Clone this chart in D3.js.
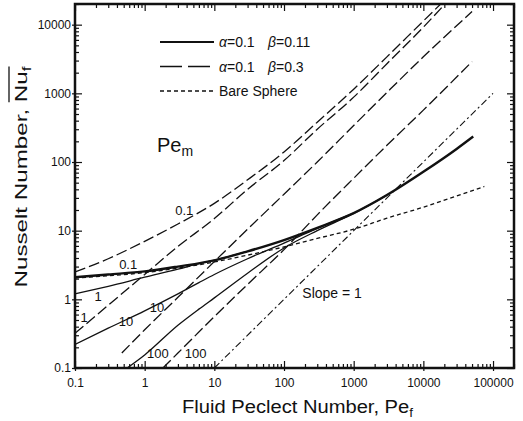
<!DOCTYPE html>
<html lang="en">

<head>
	<meta charset="UTF-8">
	<title>Nusselt number vs fluid Peclet number</title>
	<style type="text/css">
		body { margin: 0; background: #fff; }
		text { font-family: "Liberation Sans", Arial, sans-serif; fill: #111; }
	</style>
</head>

<body>
	<div id="chart"></div>

	<script src="https://d3js.org/d3.v7.min.js"></script>
	<script>
		// values, each point is [Pe_f, Nu_f]
		var bareSphere = [[0.1, 2.05], [0.3, 2.2], [1, 2.45], [3, 2.85], [10, 3.5], [30, 4.4], [100, 5.8], [300, 7.7], [1000, 10.5], [3000, 15.2], [10000, 22], [30000, 32], [75000, 44]];

		// alpha = 0.1, beta = 0.11 (solid)
		var solidPm01 = [[0.1, 2.1], [0.3, 2.3], [1, 2.55], [3, 3.0], [10, 3.7], [30, 5.0], [100, 7.3], [300, 11.0], [1000, 18], [3000, 33], [10000, 72], [30000, 155], [52000, 235]];
		var solidPm1 = [[0.1, 1.2], [0.3, 1.55], [1, 2.1], [3, 2.75], [6, 3.3], [10, 3.72], [30, 5.0]];
		var solidPm10 = [[0.1, 0.22], [0.3, 0.38], [1, 0.68], [3, 1.2], [6, 1.75], [10, 2.3], [30, 3.9], [100, 6.6], [300, 10.8], [1000, 18]];
		var solidPm100 = [[0.56, 0.1], [1, 0.155], [3, 0.42], [6, 0.72], [10, 1.05], [30, 2.4], [100, 5.6], [300, 10.0], [1000, 17.8], [3000, 33]];

		// alpha = 0.1, beta = 0.3 (long dash)
		var dashPm01 = [[0.1, 2.5], [0.3, 3.9], [1, 7.0], [3, 12.5], [10, 25], [30, 55], [100, 140], [300, 380], [1000, 1150], [3000, 3400], [10000, 11300], [20000, 22500]];
		var dashPm1 = [[0.1, 0.32], [0.3, 0.82], [1, 2.3], [3, 5.9], [10, 15], [30, 40], [100, 105], [300, 300], [1000, 880], [3000, 2700], [10000, 9200], [20000, 19500]];
		var dashPm10 = [[0.47, 0.165], [1, 0.36], [3, 1.07], [10, 3.55], [30, 10.5], [100, 34], [300, 100], [1000, 340], [3000, 1030], [10000, 3400], [50000, 15500]];
		var dashPm100 = [[1.83, 0.1], [3, 0.165], [10, 0.56], [30, 1.65], [100, 5.3], [300, 17], [1000, 58], [3000, 175], [10000, 570], [50000, 2900]];

		var slopeOne = [[10, 0.1], [100000, 1000]];

		var xTicks = [0.1, 1, 10, 100, 1000, 10000, 100000];
		var xTickLabels = ['0.1', '1', '10', '100', '1000', '10000', '100000'];
		var yTicks = [0.1, 1, 10, 100, 1000, 10000];
		var yTickLabels = ['0.1', '1', '10', '100', '1000', '10000'];

		// Pe_m labels, anchored in data units
		var curveLabels = [
			{ text: '0.1', pe: 3.7, nu: 19.8 },
			{ text: '0.1', pe: 0.58, nu: 3.2 },
			{ text: '1', pe: 0.214, nu: 1.12 },
			{ text: '1', pe: 0.135, nu: 0.55 },
			{ text: '10', pe: 0.54, nu: 0.47 },
			{ text: '10', pe: 1.5, nu: 0.77 },
			{ text: '100', pe: 1.55, nu: 0.165 },
			{ text: '100', pe: 5.4, nu: 0.165 }
		];
		var slopeLabel = { text: 'Slope = 1', pe: 490, nu: 1.23 };

		var W = 523, H = 421;
		var pL = 75, pR = 514, pT = 4, pB = 368;

		var xScale = d3.scaleLog().domain([0.1, 200000]).range([pL, pR]);
		var yScale = d3.scaleLog().domain([0.1, 20000]).range([pB, pT]);

		var svg = d3.select('#chart')
			.append('svg')
			.attr('width', W)
			.attr('height', H);

		svg.append('clipPath').attr('id', 'plot')
			.append('rect')
			.attr('x', pL).attr('y', pT)
			.attr('width', pR - pL).attr('height', pB - pT);

		var isMajor = d => Math.abs(Math.log10(d) - Math.round(Math.log10(d))) < 1e-6;
		var xMinor = xScale.ticks().filter(d => !isMajor(d));
		var yMinor = yScale.ticks().filter(d => !isMajor(d));

		function ticks(axis, tx, ty) {
			var g = svg.append('g')
				.attr('transform', `translate(${tx}, ${ty})`)
				.call(axis)
				.attr('font-size', 12)
				.attr('font-family', '"Liberation Sans", Arial, sans-serif');
			g.select('.domain').remove();
			g.selectAll('line').attr('stroke', '#111').attr('stroke-width', 1.2);
			g.selectAll('text').attr('fill', '#111');
			return g;
		}

		// bottom
		ticks(d3.axisBottom(xScale).tickValues(xTicks).tickSizeInner(-7).tickSizeOuter(0).tickPadding(10)
			.tickFormat((d, i) => xTickLabels[i]), 0, pB);
		ticks(d3.axisBottom(xScale).tickValues(xTicks).tickSize(3).tickFormat(''), 0, pB);
		ticks(d3.axisBottom(xScale).tickValues(xMinor).tickSize(-4).tickFormat(''), 0, pB);
		// top
		ticks(d3.axisTop(xScale).tickValues(xTicks).tickSize(-7).tickFormat(''), 0, pT);
		ticks(d3.axisTop(xScale).tickValues(xMinor).tickSize(-4).tickFormat(''), 0, pT);
		// left
		ticks(d3.axisLeft(yScale).tickValues(yTicks).tickSizeInner(-7).tickSizeOuter(0).tickPadding(4)
			.tickFormat((d, i) => yTickLabels[i]), pL, 0);
		ticks(d3.axisLeft(yScale).tickValues(yTicks).tickSize(3).tickFormat(''), pL, 0);
		ticks(d3.axisLeft(yScale).tickValues(yMinor).tickSize(-4).tickFormat(''), pL, 0);
		// right
		ticks(d3.axisRight(yScale).tickValues(yTicks).tickSize(-7).tickFormat(''), pR, 0);
		ticks(d3.axisRight(yScale).tickValues(yMinor).tickSize(-4).tickFormat(''), pR, 0);

		var lineGen = d3.line()
			.x(d => xScale(d[0]))
			.y(d => yScale(d[1]))
			.curve(d3.curveMonotoneX);

		var series = [
			{ data: bareSphere, width: 1.3, dash: '4,3' },
			{ data: solidPm1, width: 1.3, dash: null },
			{ data: solidPm10, width: 1.3, dash: null },
			{ data: solidPm100, width: 1.3, dash: null },
			{ data: solidPm01, width: 2.4, dash: null },
			{ data: dashPm01, width: 1.3, dash: '11,4' },
			{ data: dashPm1, width: 1.3, dash: '11,4' },
			{ data: dashPm10, width: 1.3, dash: '11,4' },
			{ data: dashPm100, width: 1.3, dash: '11,4' },
			{ data: slopeOne, width: 1.1, dash: '7,3,2,3' }
		];

		var plot = svg.append('g').attr('clip-path', 'url(#plot)');
		series.forEach(s => {
			plot.append('path')
				.datum(s.data)
				.attr('d', lineGen)
				.attr('fill', 'none')
				.attr('stroke', '#111')
				.attr('stroke-width', s.width)
				.style('stroke-dasharray', s.dash);
		});

		// frame
		svg.append('rect')
			.attr('x', pL).attr('y', pT)
			.attr('width', pR - pL).attr('height', pB - pT)
			.attr('fill', 'none')
			.attr('stroke', '#111')
			.attr('stroke-width', 2.5);

		svg.selectAll('.clabel')
			.data(curveLabels)
			.enter().append('text')
			.attr('class', 'clabel')
			.attr('x', d => xScale(d.pe))
			.attr('y', d => yScale(d.nu))
			.attr('dy', '0.35em')
			.attr('text-anchor', 'middle')
			.attr('font-size', 13)
			.text(d => d.text);

		svg.append('text')
			.attr('x', xScale(slopeLabel.pe))
			.attr('y', yScale(slopeLabel.nu))
			.attr('dy', '0.35em')
			.attr('text-anchor', 'middle')
			.attr('font-size', 14)
			.text(slopeLabel.text);

		// Pe_m
		var pem = svg.append('text').attr('x', 157).attr('y', 152).attr('font-size', 20);
		pem.append('tspan').text('Pe');
		pem.append('tspan').attr('font-size', 14).attr('dy', 4).text('m');

		// legend
		var legend = [
			{ dash: null, width: 2, a: '0.1', b: '0.11' },
			{ dash: '22,6', width: 1.3, a: '0.1', b: '0.3' },
			{ dash: '4,3', width: 1.3, text: 'Bare Sphere' }
		];
		legend.forEach((d, i) => {
			var ly = 42 + i * 24.5;
			svg.append('line')
				.attr('x1', 160).attr('x2', 214)
				.attr('y1', ly).attr('y2', ly)
				.attr('stroke', '#111')
				.attr('stroke-width', d.width)
				.style('stroke-dasharray', d.dash);
			var t = svg.append('text').attr('x', 219).attr('y', ly + 5).attr('font-size', 14);
			if (d.text) {
				t.text(d.text);
			} else {
				t.append('tspan').attr('font-style', 'italic').text('\u03b1');
				t.append('tspan').text('=' + d.a);
				t.append('tspan').attr('x', 268).attr('font-style', 'italic').text('\u03b2');
				t.append('tspan').text('=' + d.b);
			}
		});

		// axis titles
		var xt = svg.append('text')
			.attr('x', 182).attr('y', 413)
			.attr('font-size', 18)
			.attr('textLength', 231)
			.attr('lengthAdjust', 'spacingAndGlyphs');
		xt.append('tspan').text('Fluid Peclect Number, Pe');
		xt.append('tspan').attr('font-size', 12).attr('dy', 4).text('f');

		var yg = svg.append('g').attr('transform', 'translate(27, 177) rotate(-90)');
		var yt = yg.append('text')
			.attr('x', 0).attr('y', 0)
			.attr('text-anchor', 'middle')
			.attr('font-size', 17)
			.attr('textLength', 221)
			.attr('lengthAdjust', 'spacingAndGlyphs');
		yt.append('tspan').text('Nusselt Number, Nu');
		yt.append('tspan').attr('font-size', 12).attr('dy', 4).text('f');

		// bar over Nu_f
		var node = yt.node();
		var n = node.getNumberOfChars();
		var x0 = node.getStartPositionOfChar(n - 3).x;
		var x1 = node.getEndPositionOfChar(n - 1).x;
		yg.append('line')
			.attr('x1', x0).attr('x2', x1)
			.attr('y1', -18).attr('y2', -18)
			.attr('stroke', '#111')
			.attr('stroke-width', 1.3);
	</script>
</body>

</html>
